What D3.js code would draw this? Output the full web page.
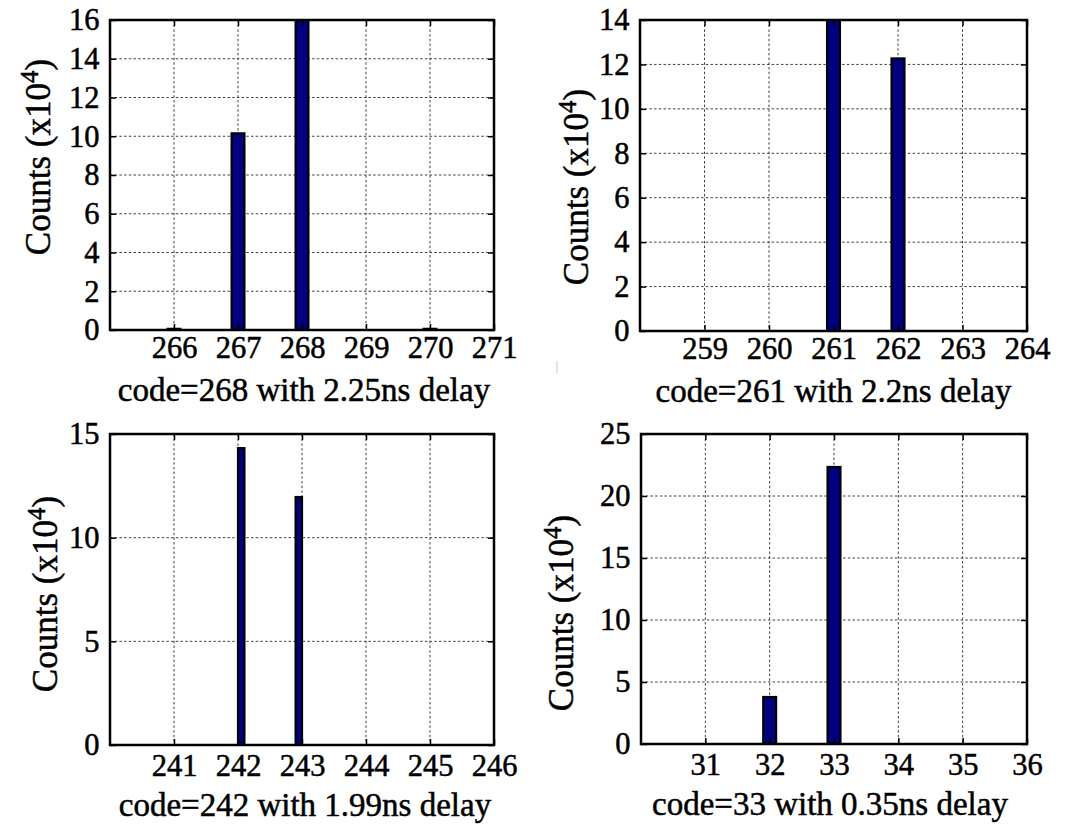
<!DOCTYPE html>
<html><head><meta charset="utf-8">
<script src="https://cdn.jsdelivr.net/npm/d3@7/dist/d3.min.js"></script>
<style>body{margin:0;background:#fff}svg{display:block}</style>
</head><body>
<svg id="chart" width="1068" height="827"></svg>
<script>
// ---- data ----
const p1Codes = [266, 267, 268, 270];
const p1Counts = [0.06, 10.15, 16, 0.06];
const p1XTicks = [266, 267, 268, 269, 270, 271];
const p1YTicks = [0, 2, 4, 6, 8, 10, 12, 14, 16];
const p1XDomain = [265, 271];
const p1Label = "code=268 with 2.25ns delay";

const p2Codes = [261, 262];
const p2Counts = [14, 12.27];
const p2XTicks = [259, 260, 261, 262, 263, 264];
const p2YTicks = [0, 2, 4, 6, 8, 10, 12, 14];
const p2XDomain = [258, 264];
const p2Label = "code=261 with 2.2ns delay";

const p3Codes = [242.05, 242.95];
const p3Counts = [14.32, 11.96];
const p3XTicks = [241, 242, 243, 244, 245, 246];
const p3YTicks = [0, 5, 10, 15];
const p3XDomain = [240, 246];
const p3Label = "code=242 with 1.99ns delay";

const p4Codes = [32, 33];
const p4Counts = [3.79, 22.34];
const p4XTicks = [31, 32, 33, 34, 35, 36];
const p4YTicks = [0, 5, 10, 15, 20, 25];
const p4XDomain = [30, 36];
const p4Label = "code=33 with 0.35ns delay";

const yLabelMain = "Counts (x10";
const yLabelSup = "4";

// ---- layout / style (not data) ----
const layout = [
  {x0:110, x1:494,  y0:20,  y1:330, barW:0.2, tp:6, xlDx:2,  ylx:50,  yly:157},
  {x0:640, x1:1027, y0:20,  y1:331, barW:0.2, tp:6, xlDx:0,  ylx:588, yly:187},
  {x0:110, x1:494,  y0:434, y1:745, barW:0.1, tp:9, xlDx:3,  ylx:57,  yly:594},
  {x0:641, x1:1027, y0:434, y1:744, barW:0.2, tp:9, xlDx:-4, ylx:573, yly:613}
];
const panels = [
  {codes:p1Codes, counts:p1Counts, xt:p1XTicks, yt:p1YTicks, xd:p1XDomain, label:p1Label},
  {codes:p2Codes, counts:p2Counts, xt:p2XTicks, yt:p2YTicks, xd:p2XDomain, label:p2Label},
  {codes:p3Codes, counts:p3Counts, xt:p3XTicks, yt:p3YTicks, xd:p3XDomain, label:p3Label},
  {codes:p4Codes, counts:p4Counts, xt:p4XTicks, yt:p4YTicks, xd:p4XDomain, label:p4Label}
];

const FONT = "'Liberation Serif','Times New Roman',serif";
const TEXT_STROKE = 0.5;
const svg = d3.select("#chart");
svg.append("rect").attr("width",1068).attr("height",827).attr("fill","#fff");

panels.forEach((p, i) => {
  const L = layout[i];
  const x = d3.scaleLinear().domain(p.xd).range([L.x0, L.x1]);
  const yMax = p.yt[p.yt.length - 1];
  const y = d3.scaleLinear().domain([0, yMax]).range([L.y1, L.y0]);
  const g = svg.append("g");

  const clipId = "clip" + i;
  svg.append("clipPath").attr("id", clipId).append("rect")
    .attr("x", L.x0).attr("y", L.y0).attr("width", L.x1 - L.x0).attr("height", L.y1 - L.y0);

  // grid
  const grid = g.append("g").attr("stroke", "#404040").attr("stroke-width", 1)
    .attr("stroke-dasharray", "2.5,2.2");
  grid.selectAll("line.v").data(p.xt).join("line").attr("class","v")
    .attr("x1", d => x(d)).attr("x2", d => x(d)).attr("y1", L.y0).attr("y2", L.y1);
  grid.selectAll("line.h").data(p.yt).join("line").attr("class","h")
    .attr("x1", L.x0).attr("x2", L.x1).attr("y1", d => y(d)).attr("y2", d => y(d));

  // bars
  const data = p.codes.map((c, k) => ({c, v: p.counts[k]}));
  g.append("g").attr("clip-path", `url(#${clipId})`)
    .selectAll("rect").data(data).join("rect")
    .attr("x", d => x(d.c - L.barW/2))
    .attr("width", d => x(d.c + L.barW/2) - x(d.c - L.barW/2))
    .attr("y", d => y(d.v))
    .attr("height", d => y(0) - y(d.v))
    .attr("fill", "#000080").attr("stroke", "#000").attr("stroke-width", 2.2);

  // axes
  const styleAxis = sel => {
    sel.select(".domain").remove();
    sel.selectAll(".tick line").attr("stroke", "#000").attr("stroke-width", 1.5);
    sel.selectAll("text").attr("fill", "#000").attr("stroke", "#000").attr("stroke-width", TEXT_STROKE);
    sel.attr("font-family", FONT).attr("font-size", 30.5);
  };
  g.append("g").attr("transform", `translate(0,${L.y1})`)
    .call(d3.axisBottom(x).tickValues(p.xt).tickFormat(d3.format("d")).tickSizeInner(-6).tickSizeOuter(0).tickPadding(L.tp))
    .call(styleAxis);
  g.append("g").attr("transform", `translate(${L.x0},0)`)
    .call(d3.axisLeft(y).tickValues(p.yt).tickFormat(d3.format("d")).tickSizeInner(-6).tickSizeOuter(0).tickPadding(10.5))
    .call(styleAxis);
  g.append("g").attr("transform", `translate(0,${L.y0})`)
    .call(d3.axisTop(x).tickValues(p.xt).tickFormat("").tickSizeInner(-6).tickSizeOuter(0))
    .call(styleAxis);
  g.append("g").attr("transform", `translate(${L.x1},0)`)
    .call(d3.axisRight(y).tickValues(p.yt).tickFormat("").tickSizeInner(-6).tickSizeOuter(0))
    .call(styleAxis);

  // box
  g.append("rect").attr("x", L.x0).attr("y", L.y0)
    .attr("width", L.x1 - L.x0).attr("height", L.y1 - L.y0)
    .attr("fill", "none").attr("stroke", "#000").attr("stroke-width", 2.5);

  // x label
  g.append("text").attr("x", (L.x0 + L.x1)/2 + L.xlDx).attr("y", L.y1 + 71)
    .attr("text-anchor", "middle").attr("font-family", FONT).attr("font-size", 33)
    .attr("fill", "#000").attr("stroke", "#000").attr("stroke-width", TEXT_STROKE).text(p.label);

  // y label
  const yl = g.append("text")
    .attr("transform", `translate(${L.ylx},${L.yly}) rotate(-90)`)
    .attr("text-anchor", "middle").attr("font-family", FONT).attr("font-size", 35)
    .attr("fill", "#000").attr("stroke", "#000").attr("stroke-width", TEXT_STROKE);
  yl.append("tspan").text(yLabelMain);
  yl.append("tspan").attr("font-size", 25).attr("dy", -12).text(yLabelSup);
  yl.append("tspan").attr("dy", 12).text(")");
});

// faint scan artifact mark in the reference
svg.append("line").attr("x1", 557).attr("x2", 557).attr("y1", 361).attr("y2", 373)
  .attr("stroke", "#ddd").attr("stroke-width", 1.5);
</script>
</body></html>
